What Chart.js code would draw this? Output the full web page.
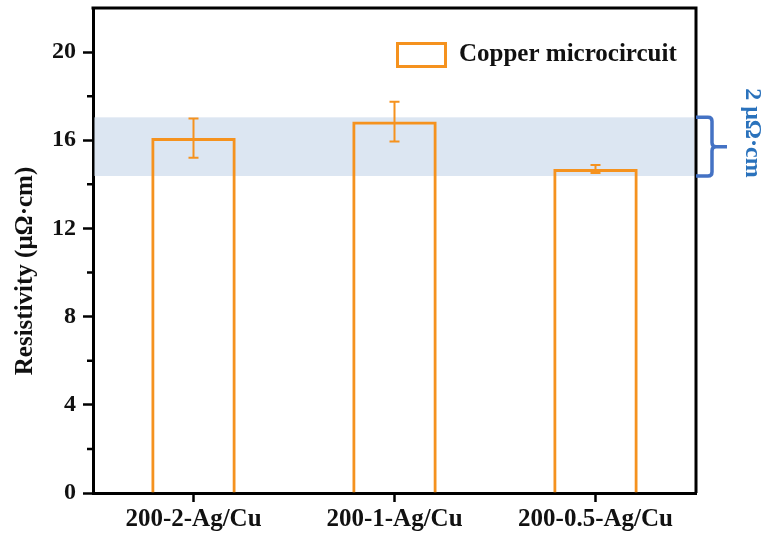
<!DOCTYPE html>
<html>
<head>
<meta charset="utf-8">
<script src="https://cdn.jsdelivr.net/npm/chart.js@4.4.0/dist/chart.umd.min.js"></script>
<style>
    html, body { margin: 0; padding: 0; background: #fff; }
</style>
</head>
<body>
<canvas id="resistivityChart" width="775" height="543"></canvas>
<script>
// values
const categories = ['200-2-Ag/Cu', '200-1-Ag/Cu', '200-0.5-Ag/Cu'];
const resistivity = [16.1, 16.85, 14.7];
const resistivityErr = [0.89, 0.9, 0.18];
const yTicks = [0, 4, 8, 12, 16, 20];
const yMinorTicks = [2, 6, 10, 14, 18];
const bandRange = [14.38, 17.04];
const seriesLabel = 'Copper microcircuit';
const yTitle = 'Resistivity (μΩ·cm)';
const bandLabel = '2 μΩ·cm';

const orange = '#F5921E';
const serif = "'Liberation Serif', 'Times New Roman', serif";

const decorations = {
    id: 'decorations',
    beforeDatasetsDraw(chart) {
        const { ctx, chartArea: a, scales: { y } } = chart;
        const top = y.getPixelForValue(bandRange[1]);
        const bottom = y.getPixelForValue(bandRange[0]);
        ctx.save();
        ctx.fillStyle = '#DCE6F2';
        ctx.fillRect(a.left + 1.5, top, a.right - a.left - 3, bottom - top);
        ctx.restore();
    },
    afterDatasetsDraw(chart) {
        const { ctx, scales: { y } } = chart;
        const meta = chart.getDatasetMeta(0);
        ctx.save();
        ctx.strokeStyle = orange;
        ctx.lineWidth = 2;
        meta.data.forEach((bar, i) => {
            const hi = y.getPixelForValue(resistivity[i] + resistivityErr[i]);
            const lo = y.getPixelForValue(resistivity[i] - resistivityErr[i]);
            ctx.beginPath();
            ctx.moveTo(bar.x, hi); ctx.lineTo(bar.x, lo);
            ctx.moveTo(bar.x - 5, hi); ctx.lineTo(bar.x + 5, hi);
            ctx.moveTo(bar.x - 5, lo); ctx.lineTo(bar.x + 5, lo);
            ctx.stroke();
        });
        ctx.restore();
    },
    afterDraw(chart) {
        const { ctx, chartArea: a, scales: { y } } = chart;
        ctx.save();

        // top and right frame
        ctx.strokeStyle = '#000';
        ctx.lineWidth = 3;
        ctx.beginPath();
        ctx.moveTo(a.left - 1.5, a.top);
        ctx.lineTo(a.right, a.top);
        ctx.lineTo(a.right, a.bottom);
        ctx.stroke();

        // minor ticks on y
        ctx.lineWidth = 2.5;
        ctx.beginPath();
        yMinorTicks.forEach(v => {
            const py = y.getPixelForValue(v);
            ctx.moveTo(a.left - 6, py);
            ctx.lineTo(a.left, py);
        });
        ctx.stroke();

        // legend
        ctx.strokeStyle = orange;
        ctx.lineWidth = 3;
        ctx.strokeRect(397.5, 43.5, 48, 23);
        ctx.fillStyle = '#111';
        ctx.font = 'bold 25px ' + serif;
        ctx.textAlign = 'left';
        ctx.textBaseline = 'middle';
        ctx.fillText(seriesLabel, 459, 55);

        // y title
        ctx.save();
        ctx.translate(26, 271);
        ctx.rotate(-Math.PI / 2);
        ctx.textAlign = 'center';
        ctx.font = 'bold 25px ' + serif;
        ctx.fillText(yTitle, 0, 0);
        ctx.restore();

        // brace next to the band
        const yT = y.getPixelForValue(bandRange[1]);
        const yB = y.getPixelForValue(bandRange[0]);
        const yM = (yT + yB) / 2;
        const x0 = a.right, xv = a.right + 16, xt = a.right + 31, r = 4;
        ctx.strokeStyle = '#4472C4';
        ctx.lineWidth = 3.5;
        ctx.beginPath();
        ctx.moveTo(x0, yT);
        ctx.lineTo(xv - r, yT);
        ctx.quadraticCurveTo(xv, yT, xv, yT + r);
        ctx.lineTo(xv, yM - r);
        ctx.quadraticCurveTo(xv, yM, xv + r, yM);
        ctx.lineTo(xt, yM);
        ctx.moveTo(xv + r, yM);
        ctx.quadraticCurveTo(xv, yM, xv, yM + r);
        ctx.lineTo(xv, yB - r);
        ctx.quadraticCurveTo(xv, yB, xv - r, yB);
        ctx.lineTo(x0, yB);
        ctx.stroke();

        // band label
        ctx.save();
        ctx.translate(752, 133);
        ctx.rotate(Math.PI / 2);
        ctx.textAlign = 'center';
        ctx.fillStyle = '#2A72BC';
        ctx.font = 'bold 24px ' + serif;
        ctx.fillText(bandLabel, 0, 0);
        ctx.restore();

        ctx.restore();
    }
};

const ctx = document.getElementById('resistivityChart').getContext('2d');

new Chart(ctx, {
    type: 'bar',
    data: {
        labels: categories,
        datasets: [{
            label: seriesLabel,
            data: resistivity,
            backgroundColor: 'rgba(0,0,0,0)',
            borderColor: orange,
            borderWidth: 3,
            borderSkipped: 'bottom',
            barPercentage: 0.42,
            categoryPercentage: 1.0
        }]
    },
    options: {
        responsive: false,
        animation: false,
        devicePixelRatio: 1,
        layout: {
            padding: { left: 0, right: 79, top: 8, bottom: 0 }
        },
        plugins: {
            legend: { display: false },
            tooltip: { enabled: false }
        },
        scales: {
            x: {
                afterFit: scale => {
                    scale.height = 50;
                    scale.paddingLeft = 0;
                    scale.paddingRight = 0;
                },
                grid: {
                    offset: false,
                    drawOnChartArea: false,
                    tickLength: 9,
                    tickColor: '#000',
                    tickWidth: 2.5
                },
                border: { color: '#000', width: 3 },
                ticks: {
                    color: '#111',
                    padding: 3,
                    font: { family: serif, size: 25, weight: 'bold' }
                }
            },
            y: {
                min: 0,
                max: 22,
                afterFit: scale => {
                    scale.width = 93;
                    scale.paddingTop = 0;
                    scale.paddingBottom = 0;
                },
                afterBuildTicks: scale => { scale.ticks = yTicks.map(v => ({ value: v })); },
                grid: {
                    drawOnChartArea: false,
                    tickLength: 10,
                    tickColor: '#000',
                    tickWidth: 2.5
                },
                border: { color: '#000', width: 3 },
                ticks: {
                    color: '#111',
                    padding: 7,
                    font: { family: serif, size: 24, weight: 'bold' }
                }
            }
        }
    },
    plugins: [decorations]
});
</script>
</body>
</html>
